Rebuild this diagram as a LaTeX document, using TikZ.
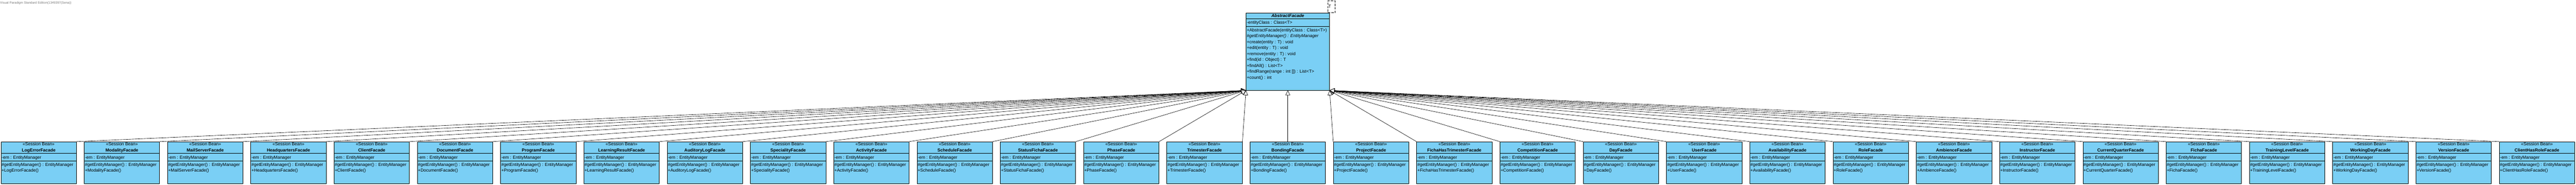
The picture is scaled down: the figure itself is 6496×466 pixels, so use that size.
\documentclass[tikz,border=0pt]{standalone}
\usepackage{fontspec}
\setmainfont{Liberation Sans}
\usetikzlibrary{arrows.meta,shapes}

\definecolor{beanblue}{RGB}{122,207,245}
\definecolor{vpgray}{RGB}{120,120,120}

\begin{document}
\begin{tikzpicture}[x=1pt,y=-1pt]
				\tikzstyle{arrow}=[draw, line width=0.8pt, -{Triangle[open, length=12pt, width=12pt, fill=white, line width=0.8pt]}]
				\tikzstyle{bean}=[draw, line width=1pt, fill=beanblue, minimum width=190pt, minimum height=105pt, inner sep=0pt, anchor=north west]
				\tikzstyle{stereo}=[inner sep=0pt, anchor=mid, font=\fontsize{11}{13}\selectfont]
				\tikzstyle{title}=[inner sep=0pt, anchor=mid, font=\bfseries\fontsize{11}{13}\selectfont]
				\tikzstyle{member}=[inner sep=0pt, anchor=mid west, xshift=2pt, font=\fontsize{11}{13}\selectfont]
				\tikzstyle{sep}=[draw, line width=1pt]
				\newcommand\XFirst{2}
				\newcommand\XStep{210}
				\newcommand\YBean{357}
				\newcommand\XAbs{3142}
				\newcommand\YAbs{32}

				% one session bean: index, name
				\newcommand\Bean[2]{
					\node [bean] at ({\XFirst+(#1-1)*\XStep}, \YBean) (#2) {};
					\path [sep] ([yshift=-30pt]#2.north west) -- ([yshift=-30pt]#2.north east);
					\path [sep] ([yshift=-49pt]#2.north west) -- ([yshift=-49pt]#2.north east);
					\node [stereo] at ([yshift=-8pt]#2.north) (#2st) {<<Session Bean>>};
					\node [title] at ([yshift=-23pt]#2.north) (#2nm) {#2};
					\node [member] at ([yshift=-40.7pt]#2.north west) (#2em) {-em : EntityManager};
					\node [member] at ([yshift=-59.3pt]#2.north west) (#2get) {\#getEntityManager() : EntityManager};
					\node [member] at ([yshift=-73.7pt]#2.north west) (#2new) {+#2()};
				}

				\useasboundingbox (0,0) rectangle (6496,466);

				% Header
				\node [inner sep=0pt, anchor=mid west, text=vpgray, font=\fontsize{8}{9}\selectfont] at (0,7) (vp) {Visual Paradigm Standard Edition(1349397(Sena))};

				% Abstract class
				\node [bean, minimum width=210pt, minimum height=195pt] at (\XAbs,\YAbs) (abs) {};
				\path [sep] ([yshift=-15.7pt]abs.north west) -- ([yshift=-15.7pt]abs.north east);
				\path [sep] ([yshift=-34.3pt]abs.north west) -- ([yshift=-34.3pt]abs.north east);
				\node [title] at ([yshift=-8.7pt]abs.north) (absnm) {\textit{AbstractFacade}};
				\node [member] at ([yshift=-25.3pt]abs.north west) (absattr) {-entityClass : Class<T>};
				\node [member] at ([yshift=-44.7pt]abs.north west) (absm1) {+AbstractFacade(entityClass : Class<T>)};
				\node [member] at ([yshift=-59.7pt]abs.north west) (absm2) {\textit{\#getEntityManager() : EntityManager}};
				\node [member] at ([yshift=-74.7pt]abs.north west) (absm3) {+create(entity : T) : void};
				\node [member] at ([yshift=-89.7pt]abs.north west) (absm4) {+edit(entity : T) : void};
				\node [member] at ([yshift=-104.7pt]abs.north west) (absm5) {+remove(entity : T) : void};
				\node [member] at ([yshift=-119.7pt]abs.north west) (absm6) {+find(id : Object) : T};
				\node [member] at ([yshift=-134.7pt]abs.north west) (absm7) {+findAll() : List<T>};
				\node [member] at ([yshift=-149.7pt]abs.north west) (absm8) {+findRange(range : int []) : List<T>};
				\node [member] at ([yshift=-164.7pt]abs.north west) (absm9) {+count() : int};

				% Template parameter
				\node [draw, line width=0.8pt, dash pattern=on 6pt off 3pt, minimum width=19pt, minimum height=30pt, inner sep=0pt] at (3357.5,17) (tpl) {};
				\node [member] at (tpl.west) (tplT) {T};

				% Session beans
				\Bean{1}{LogErrorFacade}
				\Bean{2}{ModalityFacade}
				\Bean{3}{MailServerFacade}
				\Bean{4}{HeadquartersFacade}
				\Bean{5}{ClientFacade}
				\Bean{6}{DocumentFacade}
				\Bean{7}{ProgramFacade}
				\Bean{8}{LearningResultFacade}
				\Bean{9}{AuditoryLogFacade}
				\Bean{10}{SpecialityFacade}
				\Bean{11}{ActivityFacade}
				\Bean{12}{ScheduleFacade}
				\Bean{13}{StatusFichaFacade}
				\Bean{14}{PhaseFacade}
				\Bean{15}{TrimesterFacade}
				\Bean{16}{BondingFacade}
				\Bean{17}{ProjectFacade}
				\Bean{18}{FichaHasTrimesterFacade}
				\Bean{19}{CompetitionFacade}
				\Bean{20}{DayFacade}
				\Bean{21}{UserFacade}
				\Bean{22}{AvailabilityFacade}
				\Bean{23}{RoleFacade}
				\Bean{24}{AmbienceFacade}
				\Bean{25}{InstructorFacade}
				\Bean{26}{CurrentQuarterFacade}
				\Bean{27}{FichaFacade}
				\Bean{28}{TrainingLevelFacade}
				\Bean{29}{WorkingDayFacade}
				\Bean{30}{VersionFacade}
				\Bean{31}{ClientHasRoleFacade}

				% Path Arrows
				\path [arrow] (LogErrorFacade.north east) -- (abs.south west);
				\path [arrow] (ModalityFacade.north east) -- (abs.south west);
				\path [arrow] (MailServerFacade.north east) -- (abs.south west);
				\path [arrow] (HeadquartersFacade.north east) -- (abs.south west);
				\path [arrow] (ClientFacade.north east) -- (abs.south west);
				\path [arrow] (DocumentFacade.north east) -- (abs.south west);
				\path [arrow] (ProgramFacade.north east) -- (abs.south west);
				\path [arrow] (LearningResultFacade.north east) -- (abs.south west);
				\path [arrow] (AuditoryLogFacade.north east) -- (abs.south west);
				\path [arrow] (SpecialityFacade.north east) -- (abs.south west);
				\path [arrow] (ActivityFacade.north east) -- (abs.south west);
				\path [arrow] (ScheduleFacade.north east) -- (abs.south west);
				\path [arrow] (StatusFichaFacade.north east) -- (abs.south west);
				\path [arrow] (PhaseFacade.north east) -- (abs.south west);
				\path [arrow] (TrimesterFacade.north east) -- (abs.south west);
				\path [arrow] (BondingFacade.north) -- (abs.south);
				\path [arrow] (ProjectFacade.north west) -- (abs.south east);
				\path [arrow] (FichaHasTrimesterFacade.north west) -- (abs.south east);
				\path [arrow] (CompetitionFacade.north west) -- (abs.south east);
				\path [arrow] (DayFacade.north west) -- (abs.south east);
				\path [arrow] (UserFacade.north west) -- (abs.south east);
				\path [arrow] (AvailabilityFacade.north west) -- (abs.south east);
				\path [arrow] (RoleFacade.north west) -- (abs.south east);
				\path [arrow] (AmbienceFacade.north west) -- (abs.south east);
				\path [arrow] (InstructorFacade.north west) -- (abs.south east);
				\path [arrow] (CurrentQuarterFacade.north west) -- (abs.south east);
				\path [arrow] (FichaFacade.north west) -- (abs.south east);
				\path [arrow] (TrainingLevelFacade.north west) -- (abs.south east);
				\path [arrow] (WorkingDayFacade.north west) -- (abs.south east);
				\path [arrow] (VersionFacade.north west) -- (abs.south east);
				\path [arrow] (ClientHasRoleFacade.north west) -- (abs.south east);

\end{tikzpicture}
\end{document}
